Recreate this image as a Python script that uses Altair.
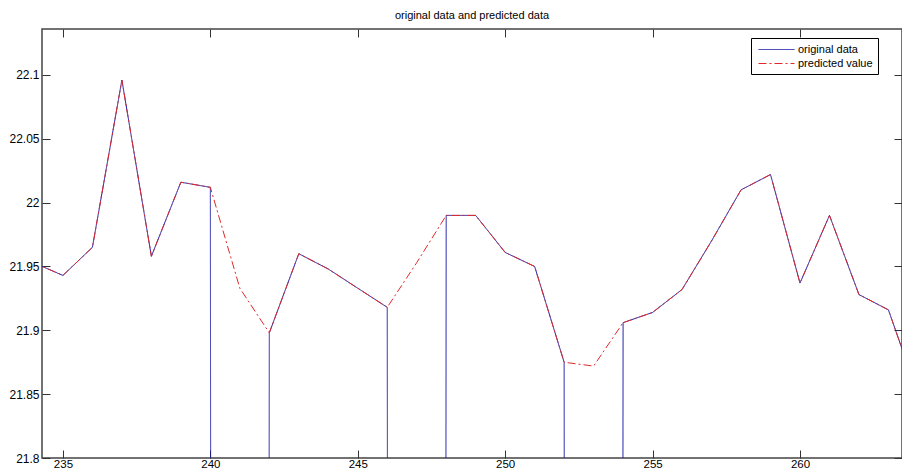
import altair as alt
import pandas as pd

# x positions (sample index)
x_vals = list(range(234, 265))

# original data (missing samples recorded as 0)
original = [21.953, 21.943, 21.965, 22.096, 21.958, 22.016, 22.012, 0.0,
            21.898, 21.960, 21.948, 21.933, 21.918, 0.0, 21.990, 21.990,
            21.961, 21.950, 21.875, 0.0, 21.906, 21.914, 21.932, 21.970,
            22.010, 22.022, 21.937, 21.990, 21.928, 21.916, 21.850]

# predicted values
predicted = [21.953, 21.943, 21.965, 22.096, 21.958, 22.016, 22.012, 21.933,
             21.898, 21.960, 21.948, 21.933, 21.918, 21.953, 21.990, 21.990,
             21.961, 21.950, 21.875, 21.872, 21.906, 21.914, 21.932, 21.970,
             22.010, 22.022, 21.937, 21.990, 21.928, 21.916, 21.850]

series_names = ["original data", "predicted value"]
x_ticks = [235, 240, 245, 250, 255, 260]
y_ticks = [21.8, 21.85, 21.9, 21.95, 22.0, 22.05, 22.1]

rows = []
for xv, o in zip(x_vals, original):
    rows.append({"x": xv, "y": o, "series": series_names[0]})
for xv, p in zip(x_vals, predicted):
    rows.append({"x": xv, "y": p, "series": series_names[1]})
df = pd.DataFrame(rows)

FONT = "Liberation Sans"
xscale = alt.Scale(domain=[234.29, 263.46], nice=False, zero=False)
yscale = alt.Scale(domain=[21.8, 22.136], nice=False, zero=False)

lines = alt.Chart(df).mark_line(clip=True, strokeWidth=1).encode(
    x=alt.X("x:Q", scale=xscale,
            axis=alt.Axis(orient="bottom", values=x_ticks, title=None, offset=-8,
                          tickSize=8, labelPadding=0, labelFontSize=11.5, format="d")),
    y=alt.Y("y:Q", scale=yscale,
            axis=alt.Axis(orient="left", values=y_ticks, title=None, offset=-8,
                          tickSize=8, labelPadding=3, format=".2~f")),
    color=alt.Color("series:N",
                    scale=alt.Scale(domain=series_names, range=["#1a1aa8", "#e02828"]),
                    legend=alt.Legend(title=None, orient="none", legendX=709, legendY=9,
                                      symbolType="M-3,0H3", symbolSize=144,
                                      symbolOffset=14, labelOffset=15,
                                      symbolStrokeWidth=1, labelFontSize=11,
                                      labelFont=FONT, labelColor="#000",
                                      strokeColor="#000", fillColor="white",
                                      padding=5, rowPadding=2, cornerRadius=0)),
    strokeDash=alt.StrokeDash("series:N",
                              scale=alt.Scale(domain=series_names,
                                              range=[[1, 0], [8, 3, 2, 3]]),
                              legend=alt.Legend(title=None, orient="none",
                                                legendX=709, legendY=9)),
    order=alt.Order("x:Q"),
)

frame_axes = alt.Chart(df[df["series"] == series_names[1]]).mark_point(opacity=0).encode(
    x=alt.X("x:Q", scale=xscale,
            axis=alt.Axis(orient="top", values=x_ticks, title=None, labels=False,
                          offset=-8, tickSize=8)),
    y=alt.Y("y:Q", scale=yscale,
            axis=alt.Axis(orient="right", values=y_ticks, title=None, labels=False,
                          offset=-8, tickSize=8)),
)

chart = alt.layer(lines, frame_axes).resolve_axis(
    x="independent", y="independent"
).properties(
    width=860,
    height=429,
    title=alt.TitleParams("original data and predicted data", fontSize=11, font=FONT,
                          fontWeight="normal", color="#000", anchor="middle", offset=8),
    autosize=alt.AutoSizeParams(type="none"),
    padding={"left": 42, "top": 29, "right": 0, "bottom": 14},
    background="white",
).configure_view(
    stroke="#444", strokeWidth=1.5
).configure_axis(
    grid=False, domain=False, labelFont=FONT, labelFontSize=12, labelColor="#000",
    tickColor="#333", tickWidth=1
)

chart.save("out.html", embed_options={"renderer": "svg", "actions": False})
